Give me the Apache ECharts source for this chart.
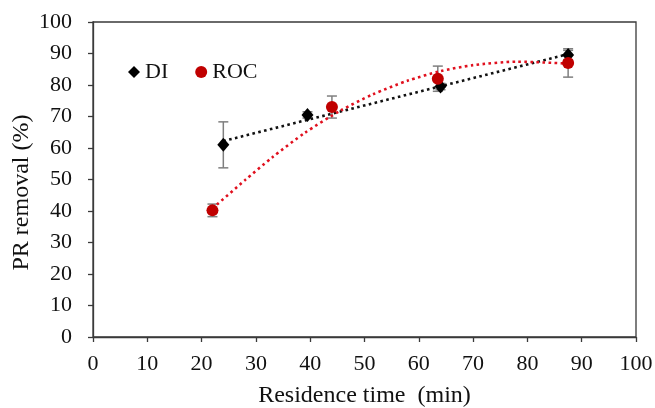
<!DOCTYPE html>
<html>
<head>
<meta charset="utf-8">
<script src="https://cdn.jsdelivr.net/npm/echarts@6/dist/echarts.min.js"></script>
<style>
  html, body { margin: 0; padding: 0; background: #fff; }
  #chart { width: 655px; height: 408px; }
</style>
</head>
<body>
<div id="chart"></div>
<script>
// measured points (residence time in min, removal in %)
var diX = [24, 39.5, 64, 87.5];
var diY = [61, 70.5, 79.5, 89.5];
var diErr = [7.3, 1, 1, 1.5];

var rocX = [22, 44, 63.5, 87.5];
var rocY = [40.2, 73, 82, 87];
var rocErr = [2, 3.5, 4, 4.5];

// trend lines
var diTrendX = [24, 87.5];
var diTrendY = [62.2, 89.8];
var rocTrendX = [22, 28, 33, 39, 45.5, 51.5, 58, 64, 70, 78, 87.5];
var rocTrendY = [40.8, 49.8, 57.0, 64.8, 71.8, 77.0, 81.4, 84.4, 86.3, 87.4, 86.8];

var xTicks = [0, 10, 20, 30, 40, 50, 60, 70, 80, 90, 100];
var yTicks = [0, 10, 20, 30, 40, 50, 60, 70, 80, 90, 100];

var FONT = '"Liberation Serif", "Times New Roman", serif';
var AXIS_COLOR = '#3a3a3a';

function pairs(xs, ys) {
  var out = [];
  for (var i = 0; i < xs.length; i++) out.push([xs[i], ys[i]]);
  return out;
}
function errRows(xs, ys, es) {
  var out = [];
  for (var i = 0; i < xs.length; i++) out.push([xs[i], ys[i] - es[i], ys[i] + es[i]]);
  return out;
}

// vertical error bar with caps
function renderErr(params, api) {
  var x = api.value(0);
  var lo = api.coord([x, api.value(1)]);
  var hi = api.coord([x, api.value(2)]);
  var cap = 5;
  var st = { stroke: '#7f7f7f', lineWidth: 1.5 };
  return {
    type: 'group',
    children: [
      { type: 'line', shape: { x1: lo[0], y1: lo[1], x2: hi[0], y2: hi[1] }, style: st },
      { type: 'line', shape: { x1: lo[0] - cap, y1: lo[1], x2: lo[0] + cap, y2: lo[1] }, style: st },
      { type: 'line', shape: { x1: hi[0] - cap, y1: hi[1], x2: hi[0] + cap, y2: hi[1] }, style: st }
    ]
  };
}

var chart = echarts.init(document.getElementById('chart'), null, { renderer: 'canvas' });

chart.setOption({
  animation: false,
  backgroundColor: '#fff',
  textStyle: { fontFamily: FONT },
  grid: {
    left: 93, right: 19, top: 22, bottom: 71,
    outerBoundsMode: 'none', containLabel: false,
    show: true, borderColor: AXIS_COLOR, borderWidth: 1.3
  },
  legend: {
    left: 123, top: 56,
    itemWidth: 12, itemHeight: 12, itemGap: 27,
    textStyle: { fontFamily: FONT, fontSize: 22, color: '#111' },
    data: [
      { name: 'DI', icon: 'diamond' },
      { name: 'ROC', icon: 'circle' }
    ]
  },
  xAxis: {
    type: 'value', min: 0, max: 100, interval: 10,
    name: 'Residence time  (min)', nameLocation: 'middle', nameGap: 47,
    nameMoveOverlap: false,
    nameTextStyle: { fontFamily: FONT, fontSize: 24, color: '#111' },
    axisLine: { lineStyle: { color: AXIS_COLOR, width: 1.3 } },
    axisTick: { inside: false, length: 5, lineStyle: { color: AXIS_COLOR, width: 1.3 } },
    axisLabel: {
      margin: 16, fontFamily: FONT, fontSize: 22, color: '#111',
      formatter: function (v) { return xTicks.indexOf(v) >= 0 ? String(v) : ''; }
    },
    splitLine: { show: false }
  },
  yAxis: {
    type: 'value', min: 0, max: 100, interval: 10,
    name: 'PR removal (%)', nameLocation: 'middle', nameGap: 59,
    nameMoveOverlap: false,
    nameTextStyle: { fontFamily: FONT, fontSize: 24, color: '#111', padding: [0, 26, 0, 0] },
    axisLine: { show: true, lineStyle: { color: AXIS_COLOR, width: 1.3 } },
    axisTick: { show: true, inside: false, length: 5, lineStyle: { color: AXIS_COLOR, width: 1.3 } },
    axisLabel: {
      margin: 21, fontFamily: FONT, fontSize: 22, color: '#111',
      formatter: function (v) { return yTicks.indexOf(v) >= 0 ? String(v) : ''; }
    },
    splitLine: { show: false }
  },
  series: [
    {
      name: 'DI err', type: 'custom', renderItem: renderErr, z: 2,
      data: errRows(diX, diY, diErr), silent: true
    },
    {
      name: 'ROC err', type: 'custom', renderItem: renderErr, z: 2,
      data: errRows(rocX, rocY, rocErr), silent: true
    },
    {
      name: 'DI trend', type: 'line', data: pairs(diTrendX, diTrendY),
      showSymbol: false, z: 3,
      lineStyle: { color: '#111', width: 2.6, type: [2.6, 3.4] }
    },
    {
      name: 'ROC trend', type: 'line', data: pairs(rocTrendX, rocTrendY),
      smooth: 0.25, showSymbol: false, z: 3,
      lineStyle: { color: '#e0101e', width: 2.6, type: [2.6, 3.4] }
    },
    {
      name: 'DI', type: 'scatter', symbol: 'diamond', symbolSize: [12, 14], z: 4,
      itemStyle: { color: '#000', opacity: 1 },
      data: pairs(diX, diY)
    },
    {
      name: 'ROC', type: 'scatter', symbol: 'circle', symbolSize: 12, z: 5,
      itemStyle: { color: '#c00000', opacity: 1 },
      data: pairs(rocX, rocY)
    }
  ]
});
</script>
</body>
</html>
